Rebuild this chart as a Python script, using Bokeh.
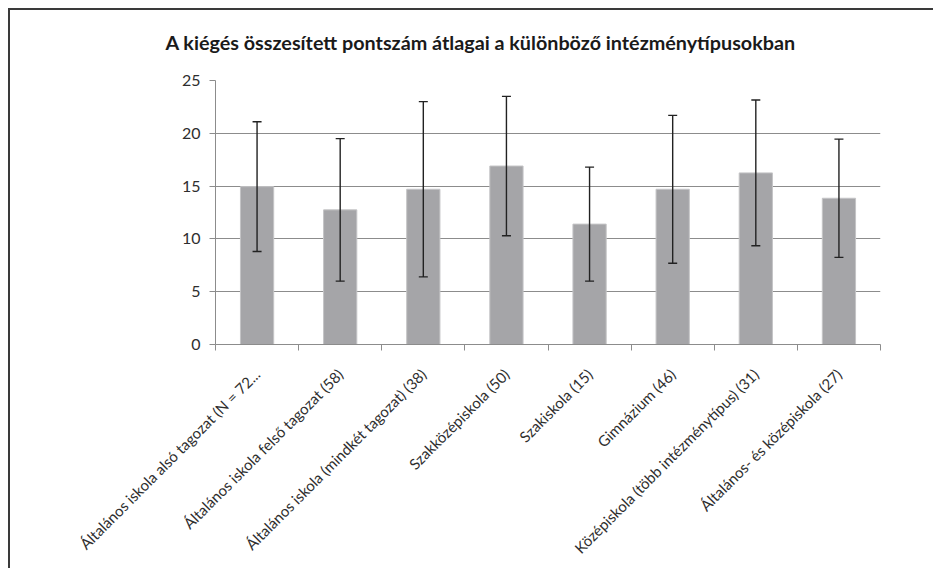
import numpy as np
from bokeh.plotting import figure
from bokeh.models import (ColumnDataSource, Whisker, TeeHead, FixedTicker, Range1d, Title)
from bokeh.embed import file_html
from bokeh.resources import INLINE

categories = [
    "Általános iskola alsó tagozat (N = 72...",
    "Általános iskola felső tagozat (58)",
    "Általános iskola (mindkét tagozat) (38)",
    "Szakközépiskola (50)",
    "Szakiskola (15)",
    "Gimnázium (46)",
    "Középiskola (több intézménytípus) (31)",
    "Általános- és középiskola (27)",
]
means = [14.95, 12.75, 14.7, 16.9, 11.4, 14.7, 16.25, 13.85]
sds = [6.15, 6.75, 8.3, 6.6, 5.4, 7.0, 6.9, 5.6]
y_ticks = [0, 5, 10, 15, 20, 25]
title_text = "A kiégés összesített pontszám átlagai a különböző intézménytípusokban"

FONT = "Lato"
n = len(categories)
x = np.arange(n) + 0.5
means_a = np.array(means)
sds_a = np.array(sds)
src = ColumnDataSource(dict(x=x, top=means_a, upper=means_a + sds_a, lower=means_a - sds_a))

p = figure(width=925, height=560, output_backend="svg", toolbar_location=None,
           x_range=Range1d(0, n), y_range=Range1d(0, 25),
           min_border_left=205, min_border_right=55, min_border_top=70, min_border_bottom=226)
p.styles = {"border-left": "2px solid #3a3a3a", "border-top": "2px solid #3a3a3a",
            "margin-left": "8px", "margin-top": "8px"}
p.outline_line_color = None
p.background_fill_color = "white"

# spacer (nearest the frame) then the real title above it
spacer = Title(text=" ", text_font_size="9px")
p.add_layout(spacer, "above")
ttl = Title(text=title_text, align="left", offset=-50, text_font=FONT,
            text_font_style="bold", text_font_size="19.75px", text_color="#1a1a1a")
p.add_layout(ttl, "above")

p.vbar(x="x", top="top", width=0.4, bottom=0, source=src,
       fill_color="#a5a5a8", line_color="#c4c4c6", line_width=1)

w = Whisker(base="x", upper="upper", lower="lower", source=src,
            line_color="#222222", line_width=1.4, level="overlay")
w.upper_head = TeeHead(size=9, line_color="#222222", line_width=1.4)
w.lower_head = TeeHead(size=9, line_color="#222222", line_width=1.4)
p.add_layout(w)

# x axis
p.xaxis.ticker = FixedTicker(ticks=list(x), minor_ticks=list(range(n + 1)))
p.xaxis.major_label_overrides = {float(xi): c for xi, c in zip(x, categories)}
p.xaxis.major_label_orientation = np.pi / 4
p.xaxis.major_tick_line_color = None
p.xaxis.minor_tick_in = 0
p.xaxis.minor_tick_out = 6
p.xaxis.minor_tick_line_color = "#8c8c8c"
p.xaxis.axis_line_color = "#8c8c8c"
p.xaxis.major_label_text_font = FONT
p.xaxis.major_label_text_font_size = "15px"
p.xaxis.major_label_text_color = "#2e2e2e"
p.xaxis.major_label_standoff = 21

# y axis
p.yaxis.ticker = FixedTicker(ticks=y_ticks)
p.yaxis.axis_line_color = "#8c8c8c"
p.yaxis.major_tick_line_color = "#8c8c8c"
p.yaxis.major_tick_in = 0
p.yaxis.major_tick_out = 6
p.yaxis.minor_tick_line_color = None
p.yaxis.major_label_text_font = FONT
p.yaxis.major_label_text_font_size = "16px"
p.yaxis.major_label_text_color = "#2e2e2e"
p.yaxis.major_label_standoff = 9

p.xgrid.grid_line_color = None
p.ygrid.grid_line_color = "#8c8c8c"
p.ygrid.grid_line_width = 1

open("out.html", "w").write(file_html(p, INLINE))
